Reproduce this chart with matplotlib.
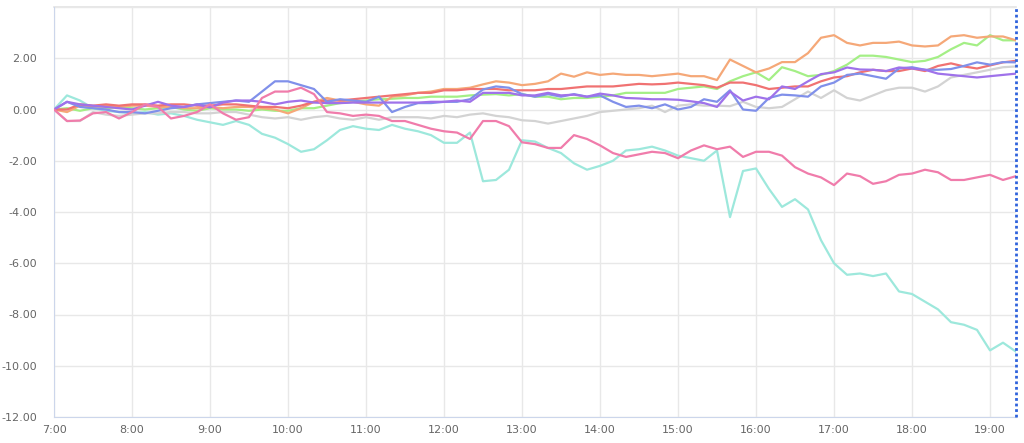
import numpy as np
import matplotlib
matplotlib.use("Agg")
import matplotlib.pyplot as plt

# time axis: 10-minute samples from 7:00 to 19:20
start_hour = 7
step_minutes = 10
n_points = 75

orange = [0, -0.1, 0.15, 0.1, 0.15, 0.1, 0.15, 0.15, 0.1, 0.1, 0.05, 0.05, 0.1, 0.05, 0.1, 0.1, 0.05, 0.0, -0.15, 0.05,
          0.3, 0.45, 0.35, 0.3, 0.2, 0.15, 0.5, 0.55, 0.65, 0.7, 0.8, 0.8, 0.85, 0.98, 1.1, 1.05, 0.95, 1.0, 1.1, 1.4,
          1.28, 1.45, 1.35, 1.4, 1.35, 1.35, 1.3, 1.35, 1.4, 1.3, 1.3, 1.15, 1.95, 1.7, 1.45, 1.6, 1.85, 1.85, 2.2, 2.8,
          2.9, 2.6, 2.5, 2.6, 2.6, 2.65, 2.5, 2.46, 2.5, 2.85, 2.9, 2.8, 2.85, 2.85, 2.7]
green = [0, 0.05, -0.05, 0.05, 0.05, 0.1, 0.05, 0.0, 0.05, 0.1, 0.0, -0.05, 0.05, 0.0, 0.0, -0.05, 0.0, -0.05, -0.05, 0.05,
         0.05, 0.15, 0.25, 0.3, 0.35, 0.4, 0.42, 0.45, 0.45, 0.5, 0.5, 0.5, 0.55, 0.58, 0.6, 0.55, 0.6, 0.5, 0.5, 0.4,
         0.45, 0.45, 0.5, 0.55, 0.65, 0.65, 0.65, 0.65, 0.8, 0.85, 0.9, 0.8, 1.1, 1.3, 1.45, 1.15, 1.65, 1.5, 1.3, 1.35,
         1.5, 1.75, 2.1, 2.1, 2.05, 1.95, 1.85, 1.9, 2.05, 2.35, 2.6, 2.5, 2.9, 2.7, 2.7]
red = [0, 0.0, 0.2, 0.15, 0.2, 0.15, 0.2, 0.2, 0.15, 0.2, 0.2, 0.15, 0.15, 0.2, 0.2, 0.15, 0.1, 0.1, 0.05, 0.15,
       0.3, 0.35, 0.35, 0.4, 0.45, 0.5, 0.55, 0.6, 0.65, 0.65, 0.75, 0.75, 0.8, 0.8, 0.8, 0.75, 0.75, 0.75, 0.8, 0.8,
       0.85, 0.9, 0.9, 0.9, 0.95, 1.0, 0.98, 1.0, 1.05, 1.0, 0.95, 0.85, 1.05, 1.05, 0.95, 0.8, 0.85, 0.9, 0.9, 1.1,
       1.25, 1.3, 1.45, 1.55, 1.5, 1.5, 1.6, 1.5, 1.7, 1.8, 1.68, 1.6, 1.72, 1.84, 1.9]
blue = [0, 0.3, 0.1, 0.05, 0.0, -0.1, -0.1, -0.15, -0.05, 0.05, 0.1, 0.2, 0.25, 0.3, 0.35, 0.3, 0.7, 1.1, 1.1, 0.95,
        0.8, 0.3, 0.4, 0.35, 0.3, 0.5, -0.1, 0.1, 0.25, 0.25, 0.3, 0.3, 0.4, 0.78, 0.9, 0.85, 0.6, 0.5, 0.6, 0.5,
        0.6, 0.5, 0.55, 0.3, 0.1, 0.15, 0.05, 0.2, 0.0, 0.1, 0.4, 0.3, 0.75, 0.0, -0.05, 0.45, 0.58, 0.55, 0.5, 0.9,
        1.05, 1.35, 1.4, 1.3, 1.2, 1.6, 1.65, 1.55, 1.55, 1.58, 1.7, 1.84, 1.75, 1.85, 1.84]
purple = [0, 0.3, 0.2, 0.15, 0.1, 0.05, 0.0, 0.15, 0.3, 0.15, 0.1, 0.2, 0.08, 0.27, 0.35, 0.35, 0.3, 0.2, 0.3, 0.35,
          0.27, 0.25, 0.25, 0.27, 0.27, 0.27, 0.27, 0.27, 0.27, 0.3, 0.3, 0.35, 0.3, 0.65, 0.65, 0.65, 0.55, 0.55, 0.65, 0.55,
          0.58, 0.5, 0.62, 0.55, 0.45, 0.43, 0.4, 0.4, 0.38, 0.32, 0.25, 0.1, 0.7, 0.35, 0.5, 0.4, 0.9, 0.8, 1.1, 1.38,
          1.45, 1.64, 1.56, 1.55, 1.5, 1.64, 1.6, 1.55, 1.4, 1.35, 1.3, 1.25, 1.3, 1.35, 1.4]
gray = [0, -0.45, -0.45, -0.1, -0.2, -0.25, -0.2, -0.15, -0.15, -0.1, -0.1, -0.15, -0.15, -0.1, -0.1, -0.2, -0.3, -0.35, -0.3, -0.4,
        -0.3, -0.25, -0.35, -0.4, -0.3, -0.4, -0.3, -0.3, -0.3, -0.35, -0.25, -0.3, -0.2, -0.15, -0.25, -0.3, -0.42, -0.45, -0.55, -0.45,
        -0.35, -0.25, -0.1, -0.05, 0.0, 0.05, 0.15, -0.1, 0.15, 0.2, 0.15, 0.15, 0.13, 0.3, 0.1, 0.05, 0.1, 0.4, 0.7, 0.45,
        0.75, 0.45, 0.35, 0.55, 0.75, 0.85, 0.85, 0.7, 0.9, 1.25, 1.35, 1.45, 1.55, 1.65, 1.68]
pink = [0, -0.45, -0.43, -0.15, -0.1, -0.35, -0.1, 0.2, 0.1, -0.35, -0.25, -0.1, 0.2, -0.15, -0.4, -0.3, 0.45, 0.7, 0.7, 0.85,
        0.6, -0.1, -0.15, -0.25, -0.2, -0.25, -0.45, -0.45, -0.6, -0.75, -0.85, -0.9, -1.15, -0.45, -0.45, -0.65, -1.28, -1.35, -1.5, -1.5,
        -1.0, -1.15, -1.4, -1.7, -1.85, -1.75, -1.65, -1.7, -1.9, -1.6, -1.4, -1.55, -1.45, -1.85, -1.65, -1.65, -1.8, -2.25, -2.5, -2.65,
        -2.95, -2.5, -2.6, -2.9, -2.8, -2.55, -2.5, -2.35, -2.45, -2.75, -2.75, -2.65, -2.55, -2.75, -2.6]
cyan = [0, 0.55, 0.35, 0.05, -0.05, -0.1, -0.15, -0.1, -0.2, -0.15, -0.25, -0.4, -0.5, -0.6, -0.45, -0.6, -0.95, -1.1, -1.35, -1.65,
        -1.55, -1.2, -0.8, -0.65, -0.75, -0.8, -0.6, -0.75, -0.85, -1.0, -1.3, -1.3, -0.9, -2.8, -2.75, -2.35, -1.2, -1.25, -1.5, -1.7,
        -2.1, -2.35, -2.2, -2.0, -1.6, -1.55, -1.45, -1.6, -1.8, -1.9, -2.0, -1.6, -4.2, -2.4, -2.3, -3.1, -3.8, -3.5, -3.9, -5.1,
        -6.0, -6.45, -6.4, -6.5, -6.4, -7.1, -7.2, -7.5, -7.8, -8.3, -8.4, -8.6, -9.4, -9.1, -9.45]

series = [
    (cyan, "#9de8dc"),
    (gray, "#d3d3d3"),
    (green, "#a4ef86"),
    (orange, "#f5a878"),
    (red, "#f07272"),
    (blue, "#8090ea"),
    (purple, "#9f72ea"),
    (pink, "#f07cab"),
]

hour_ticks = list(range(7, 20))
hour_labels = [f"{h}:00" for h in hour_ticks]
y_ticks = [-12, -10, -8, -6, -4, -2, 0, 2, 4]
y_labels = [f"{v:.2f}" for v in y_ticks[:-1]] + [""]

x = start_hour + np.arange(n_points) * step_minutes / 60.0

fig = plt.figure(figsize=(10.24, 4.43), dpi=100)
ax = fig.add_axes([54 / 1024, 1 - 417 / 443, (1016 - 54) / 1024, (417 - 7) / 443])

for vals, col in series:
    ax.plot(x, vals, color=col, lw=1.6, solid_joinstyle="round", zorder=3)

ax.set_xlim(x[0], x[-1])
ax.set_ylim(-12, 4)
ax.set_xticks(hour_ticks)
ax.set_xticklabels(hour_labels)
ax.set_yticks(y_ticks)
ax.set_yticklabels(y_labels)
ax.grid(True, color="#e8e8e8", lw=1, zorder=0)
ax.tick_params(axis="both", length=0, labelsize=8, labelcolor="#666666")
ax.tick_params(axis="x", pad=6)
ax.tick_params(axis="y", pad=12)
for s in ["top", "right"]:
    ax.spines[s].set_visible(False)
ax.spines["left"].set_color("#ccd6eb")
ax.spines["bottom"].set_color("#ccd6eb")
ax.axhline(4, color="#e3e3e3", lw=1.2, clip_on=False, zorder=1)
ax.axvline(x[-1], color="#2f62dc", lw=2.0, ls=(0, (1, 1)), clip_on=False, zorder=4)

fig.savefig("out.png", dpi=100)
